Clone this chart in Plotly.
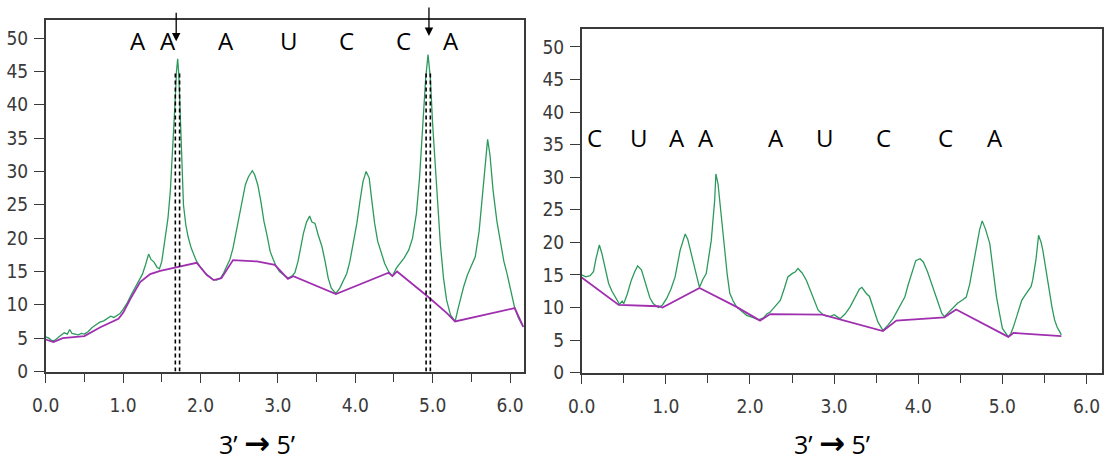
import plotly.graph_objects as go

# ---------------- data ----------------
left_x = [0.00,0.04,0.08,0.12,0.16,0.20,0.24,0.28,0.31,0.34,0.38,0.42,0.46,0.50,0.55,0.60,0.65,0.70,0.75,0.80,
          0.84,0.88,0.92,0.96,1.00,1.05,1.10,1.15,1.20,1.25,1.29,1.33,1.36,1.40,1.44,1.47,1.50,1.54,1.58,1.61,
          1.64,1.67,1.69,1.705,1.72,1.74,1.76,1.78,1.81,1.84,1.88,1.92,1.95,1.99,2.03,2.08,2.12,2.16,2.21,2.26,
          2.30,2.34,2.38,2.42,2.46,2.50,2.54,2.58,2.62,2.67,2.70,2.74,2.78,2.82,2.86,2.90,2.94,2.98,3.02,3.07,
          3.13,3.18,3.22,3.26,3.30,3.33,3.37,3.41,3.44,3.48,3.52,3.57,3.61,3.65,3.69,3.75,3.80,3.85,3.89,3.93,
          3.97,4.02,4.06,4.10,4.14,4.18,4.21,4.25,4.29,4.34,4.38,4.43,4.48,4.53,4.58,4.63,4.69,4.74,4.79,4.83,
          4.87,4.91,4.94,4.97,5.00,5.05,5.10,5.14,5.18,5.23,5.29,5.33,5.37,5.40,5.45,5.49,5.55,5.60,5.65,5.68,
          5.71,5.74,5.78,5.83,5.88,5.92,5.96,6.01,6.06,6.11,6.17]
left_y = [5.2,5.0,4.6,4.7,5.1,5.4,5.8,5.6,6.3,5.7,5.6,5.5,5.7,5.6,6.0,6.6,7.0,7.4,7.6,8.0,
          8.3,8.1,8.4,8.7,9.3,10.2,11.4,12.5,13.4,14.6,16.0,17.6,16.8,16.4,15.6,15.4,16.5,19.5,23.0,27.0,
          33.0,40.0,45.0,46.9,44.5,38.0,30.5,25.0,22.0,20.2,18.5,17.2,16.5,15.8,15.2,14.5,14.2,13.8,13.7,14.0,
          14.8,15.8,16.8,18.5,21.0,23.5,26.0,28.0,29.2,30.1,29.5,28.0,25.5,22.5,20.4,18.0,16.8,15.7,15.0,14.5,
          14.0,14.3,14.8,16.5,19.0,20.7,22.4,23.3,22.4,22.2,20.5,18.7,16.5,14.0,12.5,11.7,12.5,13.8,14.7,16.5,
          19.0,22.2,25.5,28.5,30.0,29.0,26.0,22.2,19.5,17.5,16.2,15.0,14.3,15.5,16.2,17.0,18.2,20.0,23.7,29.0,
          36.5,44.0,47.5,44.0,37.0,27.2,19.0,14.0,10.7,8.5,7.5,9.5,11.5,12.7,14.5,15.7,17.2,21.0,27.2,32.0,
          34.8,32.5,27.2,22.5,19.0,16.5,14.7,12.0,9.5,8.0,6.7]

left_base_x = [0.00,0.10,0.22,0.50,0.70,0.94,1.00,1.10,1.22,1.35,1.48,1.69,1.95,2.08,2.17,2.27,2.42,2.73,2.96,3.13,
               3.20,3.75,4.43,4.48,4.54,4.94,5.18,5.29,6.06,6.17]
left_base_y = [4.8,4.4,5.0,5.3,6.6,7.9,8.8,11.0,13.4,14.6,15.1,15.6,16.3,14.5,13.7,14.0,16.7,16.5,16.0,13.9,
               14.3,11.6,14.8,14.3,15.0,11.2,8.8,7.5,9.5,6.7]

right_x = [0.00,0.05,0.10,0.14,0.17,0.21,0.24,0.28,0.32,0.36,0.40,0.45,0.48,0.50,0.54,0.59,0.63,0.665,0.71,0.74,
           0.77,0.81,0.85,0.91,0.96,1.01,1.06,1.11,1.17,1.23,1.26,1.29,1.32,1.35,1.40,1.44,1.48,1.51,1.54,1.58,
           1.595,1.62,1.64,1.67,1.70,1.73,1.76,1.80,1.84,1.90,1.96,2.03,2.10,2.16,2.20,2.24,2.30,2.36,2.41,2.45,
           2.50,2.54,2.57,2.62,2.67,2.72,2.77,2.81,2.86,2.91,2.95,3.00,3.07,3.13,3.19,3.25,3.30,3.33,3.38,3.42,
           3.47,3.52,3.58,3.64,3.70,3.77,3.84,3.88,3.92,3.97,4.02,4.06,4.11,4.16,4.22,4.28,4.31,4.36,4.41,4.47,
           4.53,4.57,4.61,4.65,4.70,4.73,4.76,4.80,4.85,4.89,4.93,4.97,5.00,5.07,5.10,5.13,5.18,5.23,5.27,5.30,
           5.34,5.36,5.40,5.43,5.46,5.48,5.52,5.56,5.59,5.62,5.65,5.68,5.70]
right_y = [15.0,14.7,14.9,15.5,17.5,19.6,18.3,16.0,13.7,12.5,11.6,10.5,11.0,10.6,12.0,14.2,15.5,16.4,15.8,14.5,
           12.9,11.5,10.6,10.0,10.4,11.4,12.8,14.7,18.8,21.3,20.5,18.8,17.0,15.7,13.1,14.3,15.2,17.5,20.3,26.4,
           30.5,29.0,26.4,22.0,18.8,15.0,12.2,11.0,10.1,9.4,8.8,8.5,8.1,8.4,9.0,9.3,10.2,11.1,13.0,14.7,
           15.2,15.5,16.0,15.3,14.2,12.5,10.8,9.6,9.0,8.7,8.6,8.9,8.3,9.0,10.1,11.6,12.8,13.1,12.2,11.7,
           9.8,7.8,6.5,7.3,8.3,10.0,11.6,13.5,15.2,17.2,17.5,17.0,15.5,13.7,11.5,9.1,8.6,9.3,9.9,10.7,
           11.2,11.6,13.5,16.2,19.5,22.0,23.3,22.0,19.8,15.5,11.6,8.8,6.8,5.5,6.0,7.0,9.0,11.1,11.9,12.4,
           13.2,14.2,17.5,21.1,20.0,18.8,15.5,12.2,10.0,8.1,7.0,6.3,5.8]

right_base_x = [0.00,0.44,0.91,0.96,1.40,1.84,2.12,2.24,2.86,3.58,3.74,4.00,4.31,4.45,5.07,5.13,5.35,5.70]
right_base_y = [14.6,10.4,10.2,10.0,13.0,10.1,8.0,9.0,8.9,6.4,8.0,8.2,8.5,9.7,5.5,6.1,5.9,5.6]

left_letters = ["A", "A", "A", "U", "C", "C", "A"]
left_letter_x = [1.19, 1.58, 2.33, 3.14, 3.89, 4.62, 5.24]
right_letters = ["C", "U", "A", "A", "A", "U", "C", "C", "A"]
right_letter_x = [0.158, 0.68, 1.128, 1.476, 2.311, 2.893, 3.59, 4.318, 4.909]

left_dashes = [1.675, 1.73, 4.915, 4.97]
arrow_x = [1.686, 4.952]
arrow_tip_y = [49.5, 50.3]

x_ticks = [0, 1, 2, 3, 4, 5, 6]
y_ticks = [0, 5, 10, 15, 20, 25, 30, 35, 40, 45, 50]
direction_label = ("3’ <span style=\"font-family:'DejaVu Sans'; font-weight:bold; font-size:31px\">→</span> 5’")

# ---------------- figure ----------------
GREEN = "#2c9a5c"
PURPLE = "#a02fb0"
AXC = "#3a3a3a"
TICKFONT = dict(family="Liberation Sans Narrow, DejaVu Sans Condensed, Arial Narrow, sans-serif", size=19, color=AXC)
LETTERFONT = dict(family="Open Sans, Noto Sans, sans-serif", size=24, color="black")

fig = go.Figure()
fig.add_trace(go.Scatter(x=left_x, y=left_y, mode="lines", line=dict(color=GREEN, width=1.3),
                         xaxis="x", yaxis="y", showlegend=False))
fig.add_trace(go.Scatter(x=left_base_x, y=left_base_y, mode="lines", line=dict(color=PURPLE, width=1.8),
                         xaxis="x", yaxis="y", showlegend=False))
fig.add_trace(go.Scatter(x=right_x, y=right_y, mode="lines", line=dict(color=GREEN, width=1.3),
                         xaxis="x2", yaxis="y2", showlegend=False))
fig.add_trace(go.Scatter(x=right_base_x, y=right_base_y, mode="lines", line=dict(color=PURPLE, width=1.8),
                         xaxis="x2", yaxis="y2", showlegend=False))

def xax(domain, anchor):
    return dict(domain=domain, anchor=anchor, range=[0, 6.18], tickvals=x_ticks, tickformat=".1f",
                ticks="outside", ticklen=10, tickwidth=1.3, tickcolor=AXC, showline=True, linecolor=AXC,
                linewidth=1.5, mirror=True, showgrid=False, zeroline=False, tickfont=TICKFONT,
                ticklabelstandoff=6, automargin=False,
                minor=dict(dtick=0.5, tick0=0, ticks="outside", ticklen=9, tickwidth=1.3, tickcolor=AXC))

def yax(domain, anchor):
    return dict(domain=domain, anchor=anchor, range=[0, 52.7], tickvals=y_ticks,
                ticks="outside", ticklen=10, tickwidth=1.3, tickcolor=AXC, showline=True, linecolor=AXC,
                linewidth=1.5, mirror=True, showgrid=False, zeroline=False, tickfont=TICKFONT,
                ticklabelstandoff=2, automargin=False)

W, H = 1104, 460
fig.update_layout(
    width=W, height=H, margin=dict(l=0, r=0, t=0, b=0, pad=0, autoexpand=False),
    paper_bgcolor="white", plot_bgcolor="white",
    xaxis=xax([45.7 / W, 524 / W], "y"),
    yaxis=yax([1 - 371.5 / H, 1 - 20 / H], "x"),
    xaxis2=xax([581.7 / W, 1101.7 / W], "y2"),
    yaxis2=yax([1 - 372.7 / H, 1 - 29.3 / H], "x2"),
)

# dashed vertical lines
for xv in left_dashes:
    fig.add_shape(type="line", xref="x", yref="y", x0=xv, x1=xv, y0=0, y1=45,
                  line=dict(color="black", width=1.6, dash="4px,3px"))

# arrows
for xa, ya in zip(arrow_x, arrow_tip_y):
    fig.add_annotation(xref="x", yref="y", x=xa, y=ya, text="", showarrow=True, ax=0, ay=-30,
                       arrowhead=2, arrowsize=1.3, arrowwidth=1.3, arrowcolor="black")

# letters
for t, xv in zip(left_letters, left_letter_x):
    fig.add_annotation(xref="x", yref="y", x=xv, y=49.6, text=t, showarrow=False, font=LETTERFONT,
                       yanchor="middle")
for t, xv in zip(right_letters, right_letter_x):
    fig.add_annotation(xref="x2", yref="y2", x=xv, y=36.1, text=t, showarrow=False, font=LETTERFONT,
                       yanchor="middle")

# direction labels
for cx in [257, 832]:
    fig.add_annotation(xref="paper", yref="paper", x=cx / W, y=1 - 443 / H, text=direction_label,
                       showarrow=False, xanchor="center", yanchor="middle",
                       font=dict(family="Open Sans, Noto Sans, sans-serif", size=25, color="black"))

fig.write_html("out.html")
